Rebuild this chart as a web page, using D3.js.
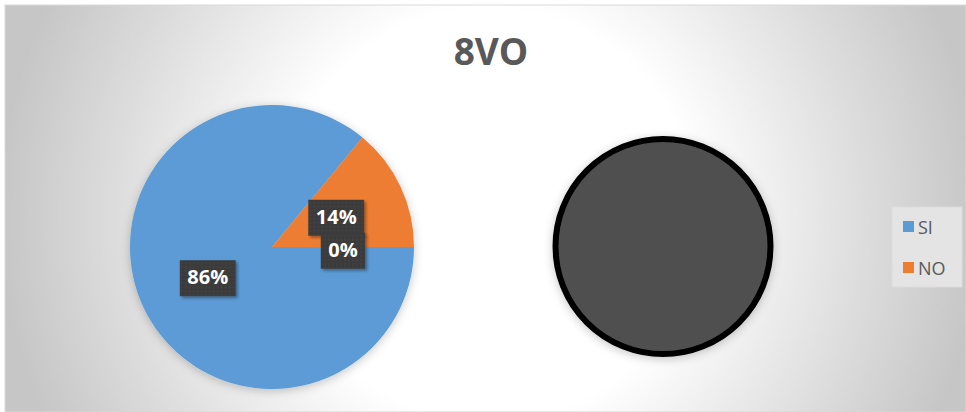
<!DOCTYPE html>
<html>
<head>
<meta charset="utf-8">
<script src="https://cdn.jsdelivr.net/npm/d3@7"></script>
<style>
  html, body { margin: 0; padding: 0; background: #ffffff; }
  svg { display: block; }
</style>
</head>
<body>
<svg id="chart" width="966" height="412"></svg>
<script>
// ---- data ----
const title = "8VO";
const categories = ["SI", "NO"];
const values = [86, 14];          // percent, primary pie
const otherLabel = "0%";
const otherValue = [0];           // the "other" group sent to the secondary pie
const colors = ["#5b9bd5", "#ed7d31"];

const W = 966, H = 412;
const svg = d3.select("#chart");
const defs = svg.append("defs");

// background radial gradient
const grad = defs.append("radialGradient")
  .attr("id", "bg").attr("gradientUnits", "userSpaceOnUse")
  .attr("cx", 490).attr("cy", 215).attr("r", 490);
grad.append("stop").attr("offset", "0").attr("stop-color", "#ffffff");
grad.append("stop").attr("offset", "0.42").attr("stop-color", "#ffffff");
grad.append("stop").attr("offset", "0.75").attr("stop-color", "#dedede");
grad.append("stop").attr("offset", "1").attr("stop-color", "#c6c6c6");

const sh = defs.append("filter").attr("id", "pieShadow")
  .attr("x", "-20%").attr("y", "-20%").attr("width", "140%").attr("height", "140%");
sh.append("feDropShadow").attr("dx", 0).attr("dy", 2).attr("stdDeviation", 5)
  .attr("flood-color", "#000").attr("flood-opacity", 0.22);

const lsh = defs.append("filter").attr("id", "lblShadow")
  .attr("x", "-30%").attr("y", "-30%").attr("width", "160%").attr("height", "160%");
lsh.append("feDropShadow").attr("dx", 2).attr("dy", 2).attr("stdDeviation", 1.5)
  .attr("flood-color", "#000").attr("flood-opacity", 0.35);

// dotted pattern for label boxes
const pat = defs.append("pattern").attr("id", "dots")
  .attr("patternUnits", "userSpaceOnUse").attr("width", 4).attr("height", 4);
pat.append("rect").attr("width", 4).attr("height", 4).attr("fill", "#3b3b3b");
pat.append("circle").attr("cx", 2).attr("cy", 2).attr("r", 0.7).attr("fill", "#4a4a4a");

svg.append("rect").attr("x", 5).attr("y", 5).attr("width", W - 5).attr("height", H - 5)
  .attr("fill", "url(#bg)").attr("stroke", "#d9d9d9").attr("stroke-width", 1);

// title
svg.append("text").attr("x", 491).attr("y", 65)
  .attr("text-anchor", "middle")
  .style("font-family", "'Open Sans', sans-serif")
  .style("font-weight", 700).style("font-size", "37px")
  .attr("fill", "#595959").text(title);

// ---- primary pie ----
const cx1 = 272, cy1 = 247, r1 = 142;
const pieData = categories.map((c, i) => ({ cat: c, value: values[i], color: colors[i], label: values[i] + "%" }));
pieData.push({ cat: "other", value: otherValue[0], color: "#505050", label: otherLabel });

// SI starts at 3 o'clock going clockwise; NO ends at 3 o'clock; "other" sits at 3 o'clock
const pie = d3.pie().sort(null).value(d => d.value)
  .startAngle(Math.PI / 2).endAngle(Math.PI / 2 + 2 * Math.PI);
const arcs = pie(pieData);
const arc = d3.arc().innerRadius(0).outerRadius(r1);

const g1 = svg.append("g").attr("transform", `translate(${cx1},${cy1})`);
g1.append("g").attr("filter", "url(#pieShadow)")
  .selectAll("path").data(arcs.filter(a => a.data.value > 0)).join("path")
  .attr("d", arc).attr("fill", d => d.data.color);

// ---- secondary pie (other group, empty -> drawn as full dark disc) ----
const cx2 = 663, cy2 = 246.5, r2 = 107.5;
const arc2 = d3.arc().innerRadius(0).outerRadius(r2);
svg.append("g").attr("transform", `translate(${cx2},${cy2})`)
  .append("path").attr("filter", "url(#pieShadow)")
  .attr("d", arc2({ startAngle: 0, endAngle: 2 * Math.PI }))
  .attr("fill", "#505050").attr("stroke", "#000").attr("stroke-width", 6);

// ---- data labels ----
const boxes = [];
arcs.forEach(a => {
  const [x, y] = arc.centroid(a);
  boxes.push({ x: x, y: y, text: a.data.label });
});
// simple overlap resolution: push later boxes down
const BH = 36;
for (let i = 1; i < boxes.length; i++) {
  for (let j = 0; j < i; j++) {
    if (Math.abs(boxes[i].x - boxes[j].x) < 50 && Math.abs(boxes[i].y - boxes[j].y) < BH) {
      if (boxes[i].y >= boxes[j].y) boxes[i].y = boxes[j].y + BH - 3;
    }
  }
}
const lg = g1.append("g");
boxes.forEach(b => {
  const gg = lg.append("g").attr("transform", `translate(${b.x},${b.y})`);
  const t = gg.append("text").attr("text-anchor", "middle").attr("dy", "0.36em")
    .style("font-family", "'Open Sans', sans-serif")
    .style("font-weight", 700).style("font-size", "20px")
    .attr("fill", "#ffffff").text(b.text);
  const bb = t.node().getBBox();
  const w = bb.width + 15;
  gg.insert("rect", "text")
    .attr("x", -w / 2).attr("y", -BH / 2 + 1).attr("width", w).attr("height", BH)
    .attr("fill", "url(#dots)").attr("filter", "url(#lblShadow)");
});

// ---- legend ----
const leg = svg.append("g");
leg.append("rect").attr("x", 892).attr("y", 207).attr("width", 70).attr("height", 80)
  .attr("fill", "#e4e4e4").attr("stroke", "#dcdcdc").attr("stroke-width", 1);
const ly = d3.scalePoint().domain(categories).range([227, 268]);
categories.forEach((c, i) => {
  leg.append("rect").attr("x", 903).attr("y", ly(c) - 6).attr("width", 11).attr("height", 11)
    .attr("fill", colors[i]);
  leg.append("text").attr("x", 918).attr("y", ly(c) + 6.5)
    .style("font-family", "'Open Sans', sans-serif").style("font-size", "18px")
    .attr("fill", "#595959").text(c);
});
</script>
</body>
</html>
